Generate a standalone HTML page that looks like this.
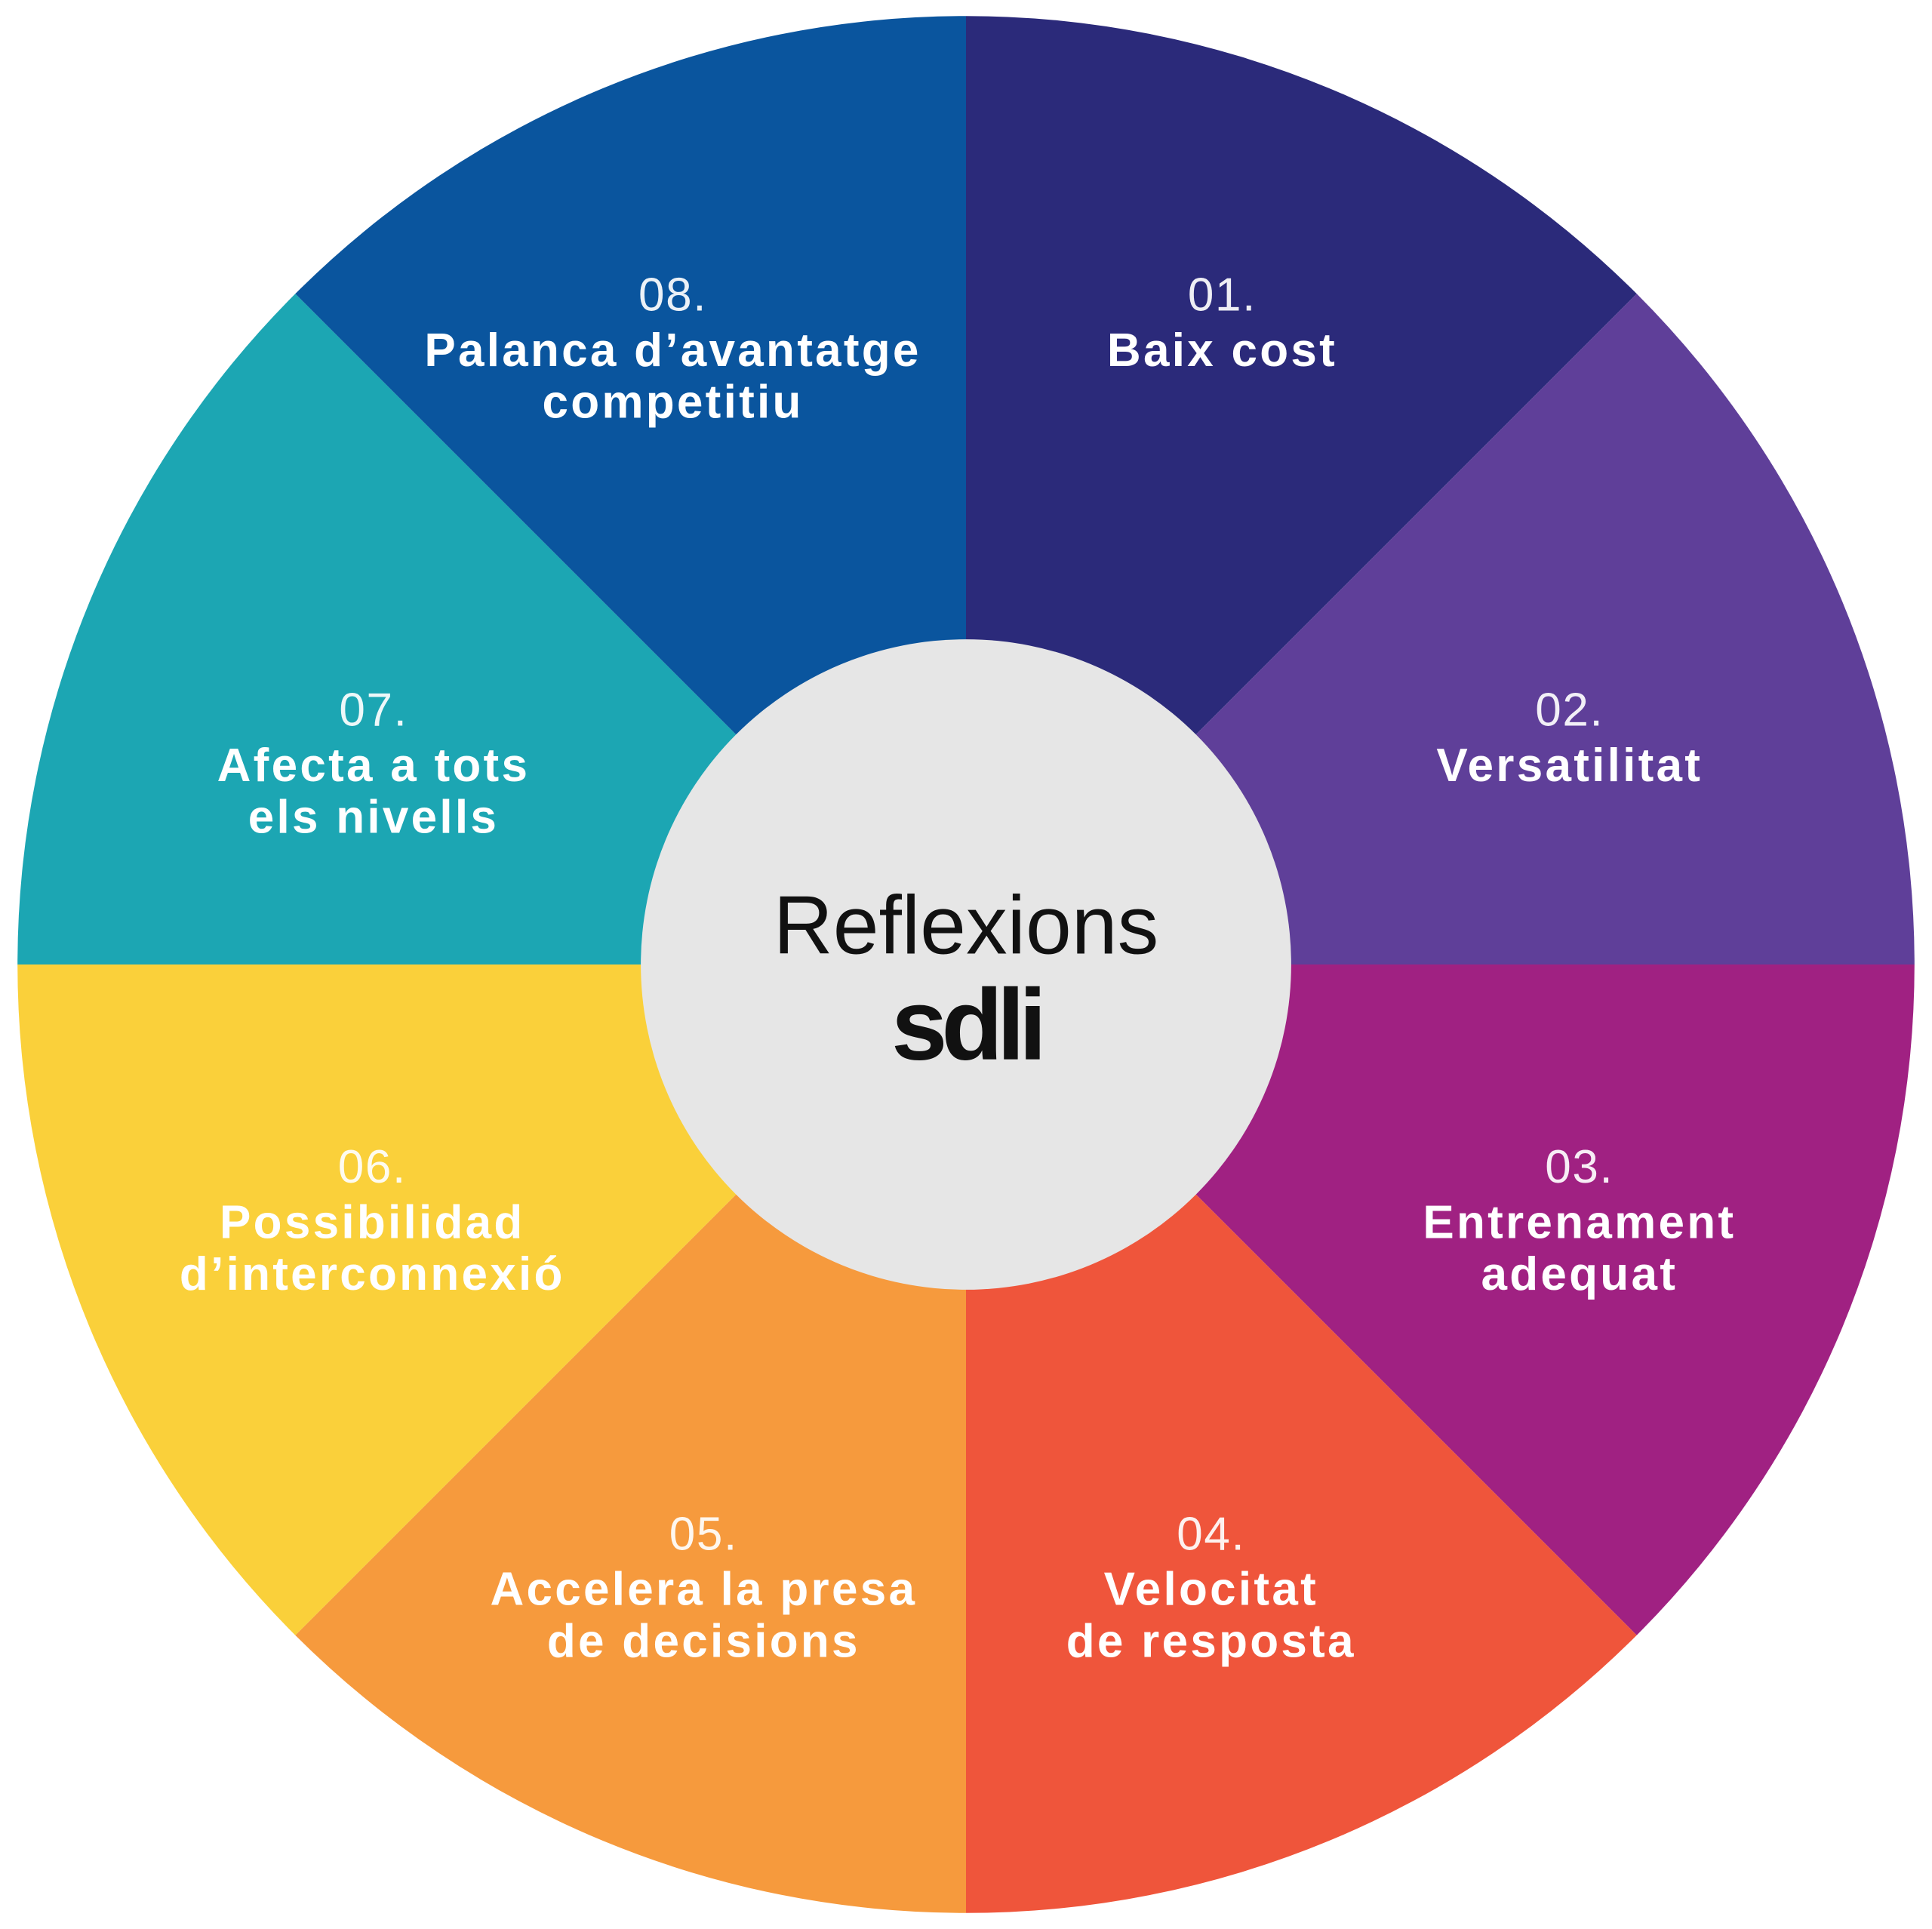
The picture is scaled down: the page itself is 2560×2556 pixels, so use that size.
<!DOCTYPE html>
<html><head><meta charset="utf-8"><style>
html,body{margin:0;padding:0;background:#fff;}
svg{display:block;}
.n{font-family:"Liberation Sans",sans-serif;font-weight:300;font-size:38px;fill:#fff;text-anchor:middle;opacity:.92;letter-spacing:1px}
.t{font-family:"Liberation Sans",sans-serif;font-weight:bold;font-size:38px;fill:#fff;text-anchor:middle;letter-spacing:2px}
</style></head><body>
<svg width="2560" height="2556" viewBox="0 0 1568 1566" xmlns="http://www.w3.org/2000/svg">
<path d="M784,783 L784,13 A770,770 0 0 1 1328.5,238.5 Z" fill="#2b2a7a"/>
<path d="M784,783 L1328.5,238.5 A770,770 0 0 1 1554,783 Z" fill="#5f3f99"/>
<path d="M784,783 L1554,783 A770,770 0 0 1 1328.5,1327.5 Z" fill="#a02182"/>
<path d="M784,783 L1328.5,1327.5 A770,770 0 0 1 784,1553 Z" fill="#ef553b"/>
<path d="M784,783 L784,1553 A770,770 0 0 1 239.5,1327.5 Z" fill="#f69a3d"/>
<path d="M784,783 L239.5,1327.5 A770,770 0 0 1 14,783 Z" fill="#fad03a"/>
<path d="M784,783 L14,783 A770,770 0 0 1 239.5,238.5 Z" fill="#1ca6b3"/>
<path d="M784,783 L239.5,238.5 A770,770 0 0 1 784,13 Z" fill="#0a559e"/>
<circle cx="784" cy="783" r="264" fill="#e6e6e6"/>
<text x="784" y="774" font-family="Liberation Sans,sans-serif" font-weight="300" font-size="67" text-anchor="middle" fill="#111">Reflexions</text>
<text x="784" y="860" font-family="Liberation Sans,sans-serif" font-weight="bold" font-size="82" text-anchor="middle" fill="#111" letter-spacing="-5">sdli</text>

<text class="n" x="992" y="252">01.</text>
<text class="t" x="992" y="297">Baix cost</text>

<text class="n" x="1274" y="589">02.</text>
<text class="t" x="1274" y="634">Versatilitat</text>

<text class="n" x="1282" y="960">03.</text>
<text class="t" x="1282" y="1005">Entrenament</text>
<text class="t" x="1282" y="1047">adequat</text>

<text class="n" x="983" y="1258">04.</text>
<text class="t" x="983" y="1303">Velocitat</text>
<text class="t" x="983" y="1345">de resposta</text>

<text class="n" x="571" y="1258">05.</text>
<text class="t" x="571" y="1303">Accelera la presa</text>
<text class="t" x="571" y="1345">de decisions</text>

<text class="n" x="302" y="960">06.</text>
<text class="t" x="302" y="1005">Possibilidad</text>
<text class="t" x="302" y="1047">d’interconnexió</text>

<text class="n" x="303" y="589">07.</text>
<text class="t" x="303" y="634">Afecta a tots</text>
<text class="t" x="303" y="676">els nivells</text>

<text class="n" x="546" y="252">08.</text>
<text class="t" x="546" y="297">Palanca d’avantatge</text>
<text class="t" x="546" y="339">competitiu</text>
</svg>
</body></html>
